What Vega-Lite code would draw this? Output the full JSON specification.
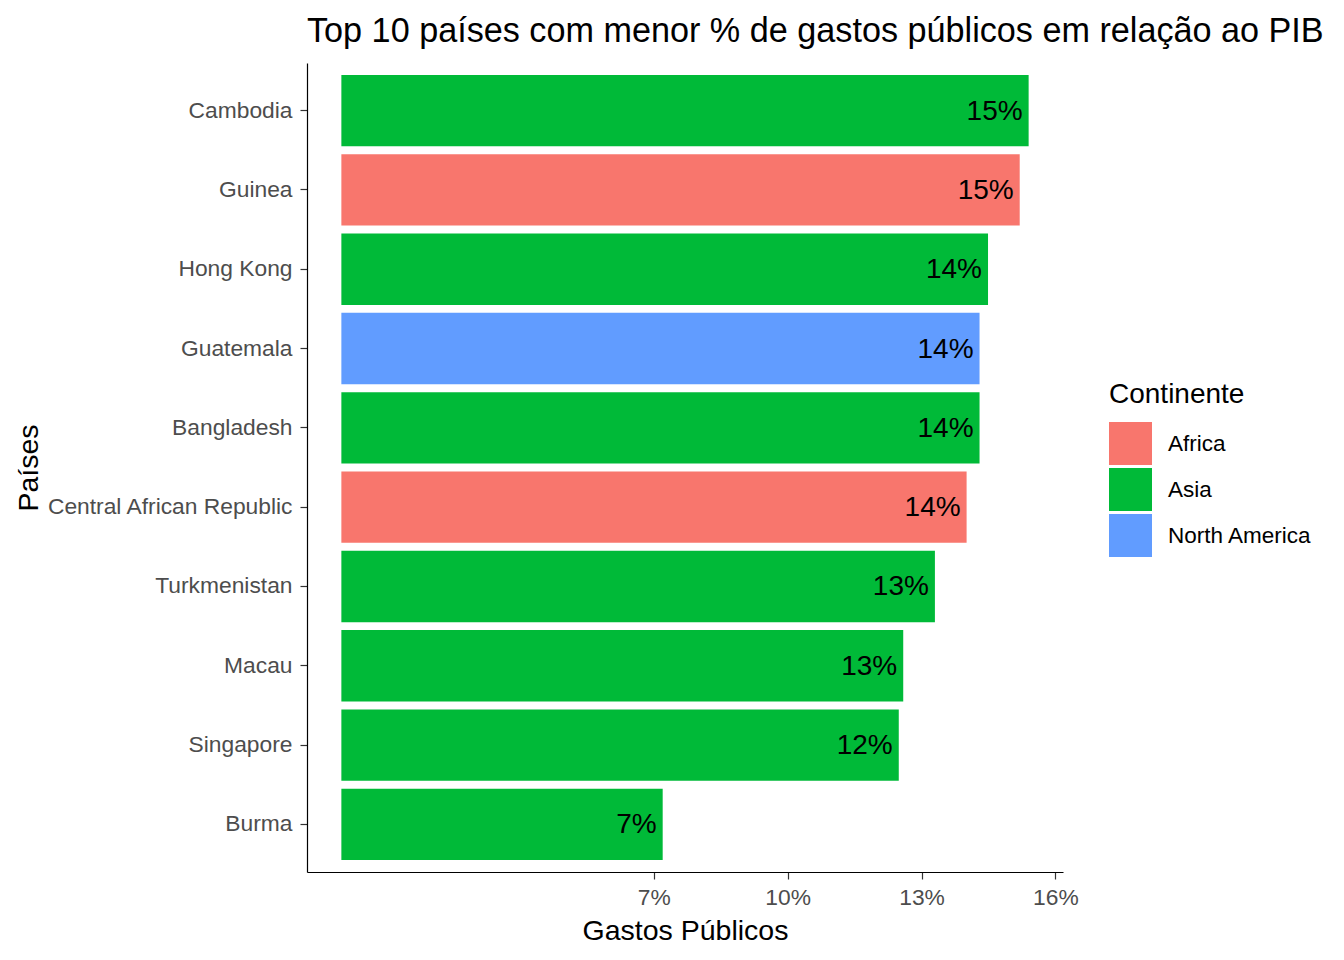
{
  "$schema": "https://vega.github.io/schema/vega-lite/v6.json",
  "autosize": "none",
  "width": 756,
  "height": 809,
  "padding": {"left": 307, "top": 63, "right": 281, "bottom": 88},
  "background": "white",
  "title": {
    "text": "Top 10 países com menor % de gastos públicos em relação ao PIB",
    "anchor": "start",
    "frame": "group",
    "fontSize": 34.2,
    "fontWeight": "normal",
    "color": "black",
    "font": "Liberation Sans",
    "baseline": "alphabetic",
    "offset": -13
  },
  "data": {
    "values": [
      {"pais": "Cambodia", "gasto": 0.1540, "continente": "Asia"},
      {"pais": "Guinea", "gasto": 0.1520, "continente": "Africa"},
      {"pais": "Hong Kong", "gasto": 0.1449, "continente": "Asia"},
      {"pais": "Guatemala", "gasto": 0.1430, "continente": "North America"},
      {"pais": "Bangladesh", "gasto": 0.1430, "continente": "Asia"},
      {"pais": "Central African Republic", "gasto": 0.1401, "continente": "Africa"},
      {"pais": "Turkmenistan", "gasto": 0.1330, "continente": "Asia"},
      {"pais": "Macau", "gasto": 0.1259, "continente": "Asia"},
      {"pais": "Singapore", "gasto": 0.1249, "continente": "Asia"},
      {"pais": "Burma", "gasto": 0.0720, "continente": "Asia"}
    ]
  },
  "encoding": {
    "y": {
      "field": "pais",
      "type": "nominal",
      "sort": ["Cambodia", "Guinea", "Hong Kong", "Guatemala", "Bangladesh", "Central African Republic", "Turkmenistan", "Macau", "Singapore", "Burma"],
      "scale": {"paddingInner": 0.1, "paddingOuter": 0.15},
      "title": "Países",
      "axis": {"titleX": -264, "titleBaseline": "bottom", "labelPadding": 8, "labelLimit": 400}
    },
    "x": {
      "field": "gasto",
      "type": "quantitative",
      "scale": {"domain": [-0.0077, 0.1617], "nice": false, "zero": false},
      "title": "Gastos Públicos",
      "axis": {"values": [0.07, 0.10, 0.13, 0.16], "format": ".0%", "labelPadding": 7, "titlePadding": 8}
    }
  },
  "layer": [
    {
      "mark": {"type": "bar"},
      "encoding": {
        "x2": {"datum": 0},
        "color": {
          "field": "continente",
          "type": "nominal",
          "title": "Continente",
          "scale": {"domain": ["Africa", "Asia", "North America"], "range": ["#F8766D", "#00BA38", "#619CFF"]},
          "legend": {
            "orient": "none",
            "legendX": 802,
            "legendY": 318,
            "symbolType": "square",
            "symbolSize": 1849,
            "symbolStrokeWidth": 0,
            "symbolOpacity": 1,
            "labelFontSize": 22.5,
            "labelColor": "black",
            "labelOffset": 16,
            "titleFontSize": 28,
            "titleFontWeight": "normal",
            "titleColor": "black",
            "titlePadding": 13,
            "rowPadding": 3
          }
        }
      }
    },
    {
      "mark": {"type": "text", "align": "right", "baseline": "middle", "dx": -6, "dy": 1, "fontSize": 28, "color": "black"},
      "encoding": {
        "text": {"field": "gasto", "type": "quantitative", "format": ".0%"}
      }
    }
  ],
  "config": {
    "font": "Liberation Sans",
    "view": {"stroke": null},
    "axis": {
      "grid": false,
      "domainColor": "black",
      "domainWidth": 1.2,
      "tickColor": "#333333",
      "tickSize": 7,
      "tickWidth": 1.2,
      "labelColor": "#4D4D4D",
      "labelFontSize": 22.8,
      "titleFontSize": 28.5,
      "titleFontWeight": "normal",
      "titleColor": "black"
    }
  }
}
